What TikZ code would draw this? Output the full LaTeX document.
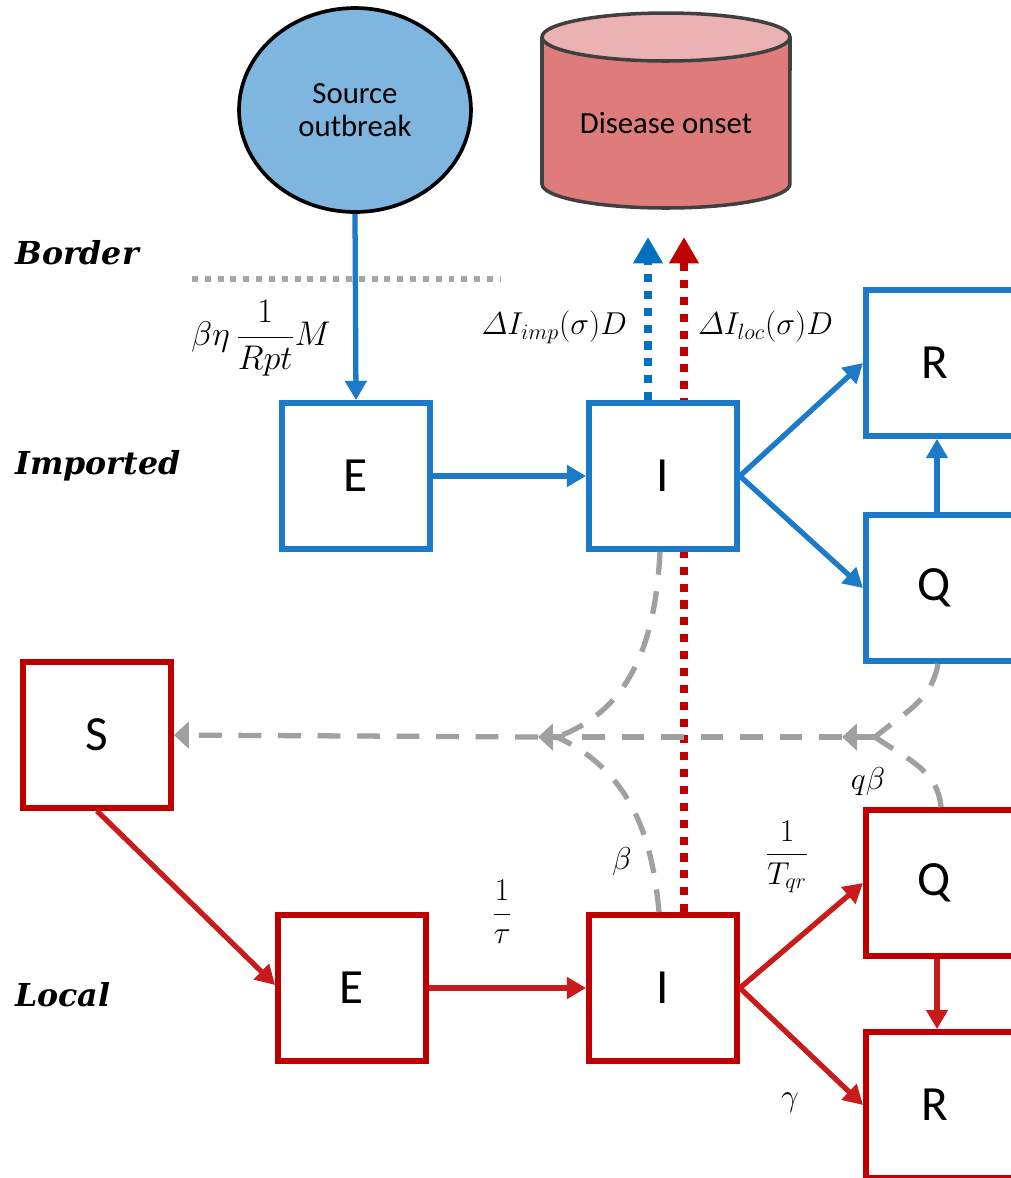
\RequirePackage{fix-cm}
\documentclass[tikz,border=0pt]{standalone}
\usepackage{fontspec}
\setmainfont{Carlito}
\newfontfamily\lblfont{DejaVu Serif}
\usetikzlibrary{arrows.meta,calc,shapes.geometric}
\definecolor{boxblue}{RGB}{28,122,200}
\definecolor{dotblue}{RGB}{0,112,192}
\definecolor{boxred}{RGB}{192,0,0}
\definecolor{arrred}{RGB}{200,28,28}
\definecolor{dashgray}{RGB}{160,160,160}
\definecolor{srcfill}{RGB}{126,182,224}
\definecolor{cylbody}{RGB}{222,124,124}
\definecolor{cyltop}{RGB}{234,178,178}
\definecolor{cyledge}{RGB}{64,64,64}
\newcommand{\itDelta}{\mathchar"0101}
\pgfdeclarelayer{background}
\pgfsetlayers{background,main}
\begin{document}
\begin{tikzpicture}[x=0.02cm,y=-0.02cm,
  box/.style={draw, fill=white, line width=3.3pt, minimum width=2.96cm, minimum height=2.92cm, inner sep=0pt, font=\fontsize{28}{30}\selectfont},
  bbox/.style={box, draw=boxblue},
  rbox/.style={box, draw=boxred},
  cutbox/.style={minimum width=4cm, anchor=west},
  barrow/.style={draw=boxblue, line width=3pt, -{Triangle[length=11pt,width=12pt]}},
  rarrow/.style={draw=arrred, line width=3pt, -{Triangle[length=11pt,width=12pt]}},
  gdash/.style={draw=dashgray, line width=3pt, dash pattern=on 13pt off 9.5pt},
  garrow/.style={gdash, -{Triangle[length=8.5pt,width=15pt]}},
  dotb/.style={draw=dotblue, line width=4.6pt, dash pattern=on 4.6pt off 5pt, -{Triangle[length=15pt,width=16pt]}},
  dotr/.style={draw=boxred, line width=4.6pt, dash pattern=on 4.6pt off 5pt, -{Triangle[length=15pt,width=16pt]}},
  mathlbl/.style={inner sep=1pt, font=\fontsize{18}{21}\selectfont},
  rowlbl/.style={anchor=west, inner sep=0pt, font=\lblfont\bfseries\itshape\fontsize{18}{21}\selectfont},
  srcnode/.style={ellipse, draw=black, line width=2.1pt, fill=srcfill, minimum width=4.64cm, minimum height=4.08cm, inner sep=0pt, align=center, font=\fontsize{17.5}{21}\selectfont}
]
\useasboundingbox (0,0) rectangle (1011,1178);
\clip (0,0) rectangle (1011,1178);

% disease onset cylinder
\fill[cylbody] (542,37) -- (542,184) arc[start angle=180,end angle=360,x radius=2.48cm,y radius=0.48cm] -- (790,37) -- cycle;
\draw[cyledge, line width=2pt] (542,37) -- (542,184) arc[start angle=180,end angle=360,x radius=2.48cm,y radius=0.48cm] -- (790,37);
\filldraw[fill=cyltop, draw=cyledge, line width=2pt] (666,37) ellipse[x radius=2.48cm, y radius=0.48cm];
\node[inner sep=0pt, font=\fontsize{17.5}{21}\selectfont] (onset) at (666,123) {Disease onset};

% source
\node[srcnode] (src) at (355,110) {Source\\[-2pt]outbreak};

% row labels
\node[rowlbl] (lborder) at (15,253) {Border};
\node[rowlbl] (limported) at (15,466) {Imported};
\node[rowlbl] (llocal) at (15,995) {Local};

% border line
\coordinate (bl) at (192,279);
\coordinate (br) at (500,279);
\draw[draw=gray!70, line width=3.4pt, dash pattern=on 3.4pt off 3.9pt] (bl) -- (br);

% boxes
\node[bbox] (Ei) at (356,476) {E};
\node[bbox] (Ii) at (663,476) {I};
\node[bbox, cutbox] (Ri) at (863,363) {R\hspace*{1.26cm}};
\node[bbox, cutbox] (Qi) at (863,588) {Q\hspace*{1.26cm}};
\node[rbox] (S) at (97,735) {S};
\node[rbox] (El) at (352,988) {E};
\node[rbox] (Il) at (663,988) {I};
\node[rbox, cutbox] (Ql) at (863,883) {Q\hspace*{1.26cm}};
\node[rbox, cutbox] (Rl) at (863,1105) {R\hspace*{1.26cm}};

% anchor points on the cut boxes
\coordinate (Rit) at (937,0 |- Ri.south);
\coordinate (Qin) at (937,0 |- Qi.north);
\coordinate (Qis) at (938,0 |- Qi.south);
\coordinate (Qls) at (937,0 |- Ql.south);
\coordinate (Qln) at (941,0 |- Ql.north);
\coordinate (Rln) at (937,0 |- Rl.north);

% dotted arrows to onset
\coordinate (tipb) at (648,237);
\coordinate (tipr) at (684,237);
\begin{pgfonlayer}{background}
\draw[dotr] ($(Il.north)+(21,0)$) -- (tipr);
\end{pgfonlayer}
\draw[dotb] ($(Ii.north)+(-15,0)$) -- (tipb);

% imported flows
\draw[barrow] (src.south) -- (Ei.north);
\draw[barrow] (Ei.east) -- (Ii.west);
\draw[barrow] (Ii.east) -- (Ri.west);
\draw[barrow] (Ii.east) -- (Qi.west);
\draw[barrow] (Qin) -- (Rit);

% local flows
\draw[rarrow] (S.south) -- ($(El.west)+(0,-3)$);
\draw[rarrow] (El.east) -- (Il.west);
\draw[rarrow] (Il.east) -- (Ql.west);
\draw[rarrow] (Il.east) -- (Rl.west);
\draw[rarrow] (Qls) -- (Rln);

% infection (gray dashed)
\coordinate (lj) at (557,737);
\coordinate (rj) at (875,737);
\coordinate (m1) at (842,737);
\coordinate (m2) at (538,737);
\draw[gdash] ($(Ii.south)+(-3,0)$) to[out=-93,in=20] (lj);
\draw[gdash] ($(Il.north)+(-4,0)$) to[out=95,in=-25] (lj);
\draw[gdash] (Qis) to[out=-100,in=40] (rj);
\draw[gdash] (Qln) to[out=95,in=-35] (rj);
\draw[garrow] (rj) -- (m1);
\draw[gdash] (m1) -- (lj);
\draw[garrow] (lj) -- (m2);
\draw[garrow] (m2) -- (S.east);

% math labels
\node[mathlbl, anchor=east] (limp) at (629,327) {$\itDelta I_{imp}(\sigma)D$};
\node[mathlbl, anchor=west] (lloc) at (696,327) {$\itDelta I_{loc}(\sigma)D$};
\node[mathlbl, font=\fontsize{19.5}{23}\selectfont] (lsrc) at (261,338) {$\beta\eta\,{\displaystyle\frac{1}{Rpt}}M$};
\node[mathlbl] (ltau) at (502,912) {${\displaystyle\frac{1}{\tau}}$};
\node[mathlbl] (ltqr) at (787,857) {${\displaystyle\frac{1}{T_{qr}}}$};
\node[mathlbl] (lgamma) at (790,1103) {$\gamma$};
\node[mathlbl] (lbeta) at (622,862) {$\beta$};
\node[mathlbl] (lqbeta) at (868,782) {$q\beta$};
\end{tikzpicture}
\end{document}
